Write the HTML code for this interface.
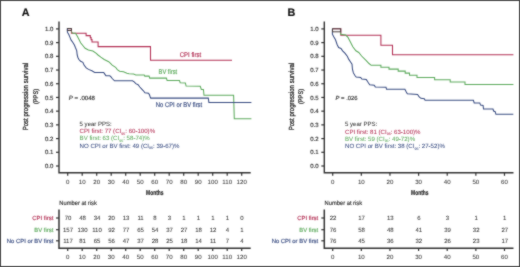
<!DOCTYPE html>
<html><head><meta charset="utf-8"><style>
html,body{margin:0;padding:0;background:#fff;}
body{width:520px;height:267px;overflow:hidden;font-family:"Liberation Sans", sans-serif;}
svg{display:block;will-change:transform;}
</style></head><body>
<svg width="520" height="267" viewBox="0 0 520 267" text-rendering="geometricPrecision" font-family='"Liberation Sans", sans-serif'>
<defs><filter id="bl" x="0" y="0" width="1" height="1" color-interpolation-filters="sRGB"><feConvolveMatrix order="3" kernelMatrix="1 2 1 2 16 2 1 2 1" edgeMode="duplicate"/></filter></defs>
<g filter="url(#bl)">
<rect x="0" y="0" width="520" height="267" fill="#fff"/>
<text x="21.8" y="15.7" font-size="10.8" text-anchor="start" fill="#111" stroke="#111" stroke-width="0.16" font-weight="bold">A</text>
<path d="M59.0,21.4 V172.7 H250.7" fill="none" stroke="#333" stroke-width="1.4"/>
<path d="M56.0,166.00 H59.0" fill="none" stroke="#333" stroke-width="1.2"/>
<text x="53.3" y="168.1" font-size="6" text-anchor="end" fill="#333" stroke="#333" stroke-width="0.15">0.0</text>
<path d="M56.0,152.29 H59.0" fill="none" stroke="#333" stroke-width="1.2"/>
<text x="53.3" y="154.39" font-size="6" text-anchor="end" fill="#333" stroke="#333" stroke-width="0.15">0.1</text>
<path d="M56.0,138.58 H59.0" fill="none" stroke="#333" stroke-width="1.2"/>
<text x="53.3" y="140.67999999999998" font-size="6" text-anchor="end" fill="#333" stroke="#333" stroke-width="0.15">0.2</text>
<path d="M56.0,124.87 H59.0" fill="none" stroke="#333" stroke-width="1.2"/>
<text x="53.3" y="126.97" font-size="6" text-anchor="end" fill="#333" stroke="#333" stroke-width="0.15">0.3</text>
<path d="M56.0,111.16 H59.0" fill="none" stroke="#333" stroke-width="1.2"/>
<text x="53.3" y="113.25999999999999" font-size="6" text-anchor="end" fill="#333" stroke="#333" stroke-width="0.15">0.4</text>
<path d="M56.0,97.45 H59.0" fill="none" stroke="#333" stroke-width="1.2"/>
<text x="53.3" y="99.55" font-size="6" text-anchor="end" fill="#333" stroke="#333" stroke-width="0.15">0.5</text>
<path d="M56.0,83.74 H59.0" fill="none" stroke="#333" stroke-width="1.2"/>
<text x="53.3" y="85.84" font-size="6" text-anchor="end" fill="#333" stroke="#333" stroke-width="0.15">0.6</text>
<path d="M56.0,70.03 H59.0" fill="none" stroke="#333" stroke-width="1.2"/>
<text x="53.3" y="72.13000000000001" font-size="6" text-anchor="end" fill="#333" stroke="#333" stroke-width="0.15">0.7</text>
<path d="M56.0,56.32 H59.0" fill="none" stroke="#333" stroke-width="1.2"/>
<text x="53.3" y="58.419999999999995" font-size="6" text-anchor="end" fill="#333" stroke="#333" stroke-width="0.15">0.8</text>
<path d="M56.0,42.61 H59.0" fill="none" stroke="#333" stroke-width="1.2"/>
<text x="53.3" y="44.71" font-size="6" text-anchor="end" fill="#333" stroke="#333" stroke-width="0.15">0.9</text>
<path d="M56.0,28.90 H59.0" fill="none" stroke="#333" stroke-width="1.2"/>
<text x="53.3" y="31.000000000000007" font-size="6" text-anchor="end" fill="#333" stroke="#333" stroke-width="0.15">1.0</text>
<path d="M67.70,172.7 V175.8" fill="none" stroke="#333" stroke-width="1.2"/>
<text x="67.70" y="184.0" font-size="6.1" text-anchor="middle" fill="#3a3a3a" stroke="#3a3a3a" stroke-width="0.06" >0</text>
<path d="M82.20,172.7 V175.8" fill="none" stroke="#333" stroke-width="1.2"/>
<text x="82.20" y="184.0" font-size="6.1" text-anchor="middle" fill="#3a3a3a" stroke="#3a3a3a" stroke-width="0.06" >10</text>
<path d="M96.70,172.7 V175.8" fill="none" stroke="#333" stroke-width="1.2"/>
<text x="96.70" y="184.0" font-size="6.1" text-anchor="middle" fill="#3a3a3a" stroke="#3a3a3a" stroke-width="0.06" >20</text>
<path d="M111.20,172.7 V175.8" fill="none" stroke="#333" stroke-width="1.2"/>
<text x="111.20" y="184.0" font-size="6.1" text-anchor="middle" fill="#3a3a3a" stroke="#3a3a3a" stroke-width="0.06" >30</text>
<path d="M125.70,172.7 V175.8" fill="none" stroke="#333" stroke-width="1.2"/>
<text x="125.70" y="184.0" font-size="6.1" text-anchor="middle" fill="#3a3a3a" stroke="#3a3a3a" stroke-width="0.06" >40</text>
<path d="M140.20,172.7 V175.8" fill="none" stroke="#333" stroke-width="1.2"/>
<text x="140.20" y="184.0" font-size="6.1" text-anchor="middle" fill="#3a3a3a" stroke="#3a3a3a" stroke-width="0.06" >50</text>
<path d="M154.70,172.7 V175.8" fill="none" stroke="#333" stroke-width="1.2"/>
<text x="154.70" y="184.0" font-size="6.1" text-anchor="middle" fill="#3a3a3a" stroke="#3a3a3a" stroke-width="0.06" >60</text>
<path d="M169.20,172.7 V175.8" fill="none" stroke="#333" stroke-width="1.2"/>
<text x="169.20" y="184.0" font-size="6.1" text-anchor="middle" fill="#3a3a3a" stroke="#3a3a3a" stroke-width="0.06" >70</text>
<path d="M183.70,172.7 V175.8" fill="none" stroke="#333" stroke-width="1.2"/>
<text x="183.70" y="184.0" font-size="6.1" text-anchor="middle" fill="#3a3a3a" stroke="#3a3a3a" stroke-width="0.06" >80</text>
<path d="M198.20,172.7 V175.8" fill="none" stroke="#333" stroke-width="1.2"/>
<text x="198.20" y="184.0" font-size="6.1" text-anchor="middle" fill="#3a3a3a" stroke="#3a3a3a" stroke-width="0.06" >90</text>
<path d="M212.70,172.7 V175.8" fill="none" stroke="#333" stroke-width="1.2"/>
<text x="212.70" y="184.0" font-size="6.1" text-anchor="middle" fill="#3a3a3a" stroke="#3a3a3a" stroke-width="0.06" >100</text>
<path d="M227.20,172.7 V175.8" fill="none" stroke="#333" stroke-width="1.2"/>
<text x="227.20" y="184.0" font-size="6.1" text-anchor="middle" fill="#3a3a3a" stroke="#3a3a3a" stroke-width="0.06" >110</text>
<path d="M241.70,172.7 V175.8" fill="none" stroke="#333" stroke-width="1.2"/>
<text x="241.70" y="184.0" font-size="6.1" text-anchor="middle" fill="#3a3a3a" stroke="#3a3a3a" stroke-width="0.06" >120</text>
<text x="154.8" y="194.8" font-size="7" text-anchor="middle" fill="#222" stroke="#222" stroke-width="0.16" textLength="17.5" lengthAdjust="spacingAndGlyphs" font-weight="bold">Months</text>
<text transform="translate(28.4,96.6) rotate(-90)" font-size="7.4" text-anchor="middle" fill="#222" stroke="#222" stroke-width="0.25" textLength="67.5" lengthAdjust="spacingAndGlyphs">Post progression survival</text>
<text transform="translate(37.8,96.5) rotate(-90)" font-size="6.6" text-anchor="middle" fill="#222" stroke="#222" stroke-width="0.25" textLength="15.2" lengthAdjust="spacingAndGlyphs">(PPS)</text>
<polyline points="67.5,28.8 71.4,28.8 71.4,33.3 86.1,33.3 86.1,35.6 90.3,35.6 90.3,37.6 91.1,37.6 91.1,39.6 92.0,39.6 92.0,42.0 98.1,42.0 98.1,46.6 150.5,46.6 150.5,60.2 232.0,60.2" fill="none" stroke="#b33055" stroke-width="1.05" stroke-linejoin="miter"/>
<polyline points="71.4,31.5 72.7,33.2 75.5,33.2 77.2,36 78.9,39.3 80.6,42.7 82.8,45.5 85.1,48.3 88.4,50 92.9,51.1 96.3,53.4 98,55 100.8,57.2 104.2,59.5 108.7,61.7 110,62.8 112.2,65.1 115.6,67.3 117.3,69.6 119.6,71.2 123.5,71.8 126.9,73.3 129.1,73.7 133.6,74.0 135.8,74.9 144.2,74.9 144.8,76.1 149.1,76.1 149.7,78.1 166.4,78.1 167.1,80.5 179.5,80.5 180.2,82.7 185.4,83.1 186.1,86.1 200.3,86.3 201.3,89.4 203.4,89.4 204.0,95.2 233.6,95.2 234.3,118.8 251.4,118.8" fill="none" stroke="#5eab5e" stroke-width="1.05" stroke-linejoin="miter"/>
<polyline points="67.4,28.5 67.4,32.2 68.8,34.6 69.9,37.1 71,39.9 72.7,42.2 74.4,45 75.5,47.8 76.7,50.6 77.2,55 77.8,57.2 78.9,59.5 80.6,61.2 82.9,62.3 84,65.1 86.2,67.9 88.5,69.4 91.9,70.7 94.7,72.4 103.7,72.4 104.8,74.1 105.9,75.8 109.8,75.8 111,76.9 112.2,78.5 114.5,80.8 132.5,80.8 134.2,81.9 135.8,83.6 138.1,84.7 139.8,87 142,89.4 144,91.5 144.9,92.8 148.5,93.3 149.4,94.6 150.3,97.3 150.7,98.1 208.3,98.1 208.9,102.5 251.4,102.5" fill="none" stroke="#3a4d82" stroke-width="1.05" stroke-linejoin="miter"/>
<rect x="67.4" y="28.5" width="4.0" height="2.0" fill="none" stroke="#4a4040" stroke-width="1"/>
<text x="179.8" y="56.7" font-size="6.8" text-anchor="start" fill="#b33055" stroke="#b33055" stroke-width="0.16" textLength="21.3" lengthAdjust="spacingAndGlyphs" >CPI first</text>
<text x="158.6" y="74.1" font-size="6.8" text-anchor="start" fill="#5eab5e" stroke="#5eab5e" stroke-width="0.16" textLength="18.5" lengthAdjust="spacingAndGlyphs" >BV first</text>
<text x="155.8" y="106.7" font-size="6.8" text-anchor="start" fill="#3a4d82" stroke="#3a4d82" stroke-width="0.16" textLength="46.4" lengthAdjust="spacingAndGlyphs" >No CPI or BV first</text>
<text x="68.7" y="100.2" font-size="6.1" fill="#333" stroke="#333" stroke-width="0.16"><tspan font-style="italic">P</tspan> = .0048</text>
<text x="79.6" y="126.2" font-size="6.1" fill="#333" stroke="#333" stroke-width="0.05" textLength="32.2" lengthAdjust="spacingAndGlyphs">5 year PPS:</text>
<text x="79.6" y="133.3" font-size="6.1" fill="#b33055" stroke="#b33055" stroke-width="0.05">CPI first: 77 (CI<tspan font-size="3.6" dy="1.7">95</tspan><tspan dy="-1.7">: 60-100)%</tspan></text>
<text x="79.6" y="140.4" font-size="6.1" fill="#5eab5e" stroke="#5eab5e" stroke-width="0.05">BV first: 63 (CI<tspan font-size="3.6" dy="1.7">95</tspan><tspan dy="-1.7">: 58-74)%</tspan></text>
<text x="79.6" y="147.6" font-size="6.1" fill="#3a4d82" stroke="#3a4d82" stroke-width="0.05">NO CPI or BV first: 49 (CI<tspan font-size="3.6" dy="1.7">95</tspan><tspan dy="-1.7">: 39-67)%</tspan></text>
<text x="59.3" y="205.4" font-size="6.2" text-anchor="start" fill="#333" stroke="#333" stroke-width="0.16" textLength="37.5" lengthAdjust="spacingAndGlyphs" >Number at risk</text>
<path d="M59.0,209.4 V248.2 H250.7" fill="none" stroke="#333" stroke-width="1.5"/>
<path d="M56.0,218.0 H59.0" fill="none" stroke="#333" stroke-width="1.2"/>
<text x="53.3" y="220.3" font-size="5.9" text-anchor="end" fill="#b33055" stroke="#b33055" stroke-width="0.16" >CPI first</text>
<text x="68.00" y="220.1" font-size="6.0" text-anchor="middle" fill="#333" stroke="#333" stroke-width="0.05" >70</text>
<text x="82.50" y="220.1" font-size="6.0" text-anchor="middle" fill="#333" stroke="#333" stroke-width="0.05" >48</text>
<text x="97.00" y="220.1" font-size="6.0" text-anchor="middle" fill="#333" stroke="#333" stroke-width="0.05" >34</text>
<text x="111.50" y="220.1" font-size="6.0" text-anchor="middle" fill="#333" stroke="#333" stroke-width="0.05" >20</text>
<text x="126.00" y="220.1" font-size="6.0" text-anchor="middle" fill="#333" stroke="#333" stroke-width="0.05" >13</text>
<text x="140.50" y="220.1" font-size="6.0" text-anchor="middle" fill="#333" stroke="#333" stroke-width="0.05" >11</text>
<text x="155.00" y="220.1" font-size="6.0" text-anchor="middle" fill="#333" stroke="#333" stroke-width="0.05" >8</text>
<text x="169.50" y="220.1" font-size="6.0" text-anchor="middle" fill="#333" stroke="#333" stroke-width="0.05" >3</text>
<text x="184.00" y="220.1" font-size="6.0" text-anchor="middle" fill="#333" stroke="#333" stroke-width="0.05" >1</text>
<text x="198.50" y="220.1" font-size="6.0" text-anchor="middle" fill="#333" stroke="#333" stroke-width="0.05" >1</text>
<text x="213.00" y="220.1" font-size="6.0" text-anchor="middle" fill="#333" stroke="#333" stroke-width="0.05" >1</text>
<text x="227.50" y="220.1" font-size="6.0" text-anchor="middle" fill="#333" stroke="#333" stroke-width="0.05" >1</text>
<text x="242.00" y="220.1" font-size="6.0" text-anchor="middle" fill="#333" stroke="#333" stroke-width="0.05" >0</text>
<path d="M56.0,229.7 H59.0" fill="none" stroke="#333" stroke-width="1.2"/>
<text x="53.3" y="232.0" font-size="5.9" text-anchor="end" fill="#5eab5e" stroke="#5eab5e" stroke-width="0.16" >BV first</text>
<text x="68.00" y="231.79999999999998" font-size="6.0" text-anchor="middle" fill="#333" stroke="#333" stroke-width="0.05" >157</text>
<text x="82.50" y="231.79999999999998" font-size="6.0" text-anchor="middle" fill="#333" stroke="#333" stroke-width="0.05" >130</text>
<text x="97.00" y="231.79999999999998" font-size="6.0" text-anchor="middle" fill="#333" stroke="#333" stroke-width="0.05" >110</text>
<text x="111.50" y="231.79999999999998" font-size="6.0" text-anchor="middle" fill="#333" stroke="#333" stroke-width="0.05" >92</text>
<text x="126.00" y="231.79999999999998" font-size="6.0" text-anchor="middle" fill="#333" stroke="#333" stroke-width="0.05" >77</text>
<text x="140.50" y="231.79999999999998" font-size="6.0" text-anchor="middle" fill="#333" stroke="#333" stroke-width="0.05" >65</text>
<text x="155.00" y="231.79999999999998" font-size="6.0" text-anchor="middle" fill="#333" stroke="#333" stroke-width="0.05" >54</text>
<text x="169.50" y="231.79999999999998" font-size="6.0" text-anchor="middle" fill="#333" stroke="#333" stroke-width="0.05" >37</text>
<text x="184.00" y="231.79999999999998" font-size="6.0" text-anchor="middle" fill="#333" stroke="#333" stroke-width="0.05" >27</text>
<text x="198.50" y="231.79999999999998" font-size="6.0" text-anchor="middle" fill="#333" stroke="#333" stroke-width="0.05" >18</text>
<text x="213.00" y="231.79999999999998" font-size="6.0" text-anchor="middle" fill="#333" stroke="#333" stroke-width="0.05" >12</text>
<text x="227.50" y="231.79999999999998" font-size="6.0" text-anchor="middle" fill="#333" stroke="#333" stroke-width="0.05" >4</text>
<text x="242.00" y="231.79999999999998" font-size="6.0" text-anchor="middle" fill="#333" stroke="#333" stroke-width="0.05" >1</text>
<path d="M56.0,240.8 H59.0" fill="none" stroke="#333" stroke-width="1.2"/>
<text x="53.3" y="243.10000000000002" font-size="5.9" text-anchor="end" fill="#3a4d82" stroke="#3a4d82" stroke-width="0.16" >No CPI or BV first</text>
<text x="68.00" y="242.9" font-size="6.0" text-anchor="middle" fill="#333" stroke="#333" stroke-width="0.05" >117</text>
<text x="82.50" y="242.9" font-size="6.0" text-anchor="middle" fill="#333" stroke="#333" stroke-width="0.05" >81</text>
<text x="97.00" y="242.9" font-size="6.0" text-anchor="middle" fill="#333" stroke="#333" stroke-width="0.05" >65</text>
<text x="111.50" y="242.9" font-size="6.0" text-anchor="middle" fill="#333" stroke="#333" stroke-width="0.05" >56</text>
<text x="126.00" y="242.9" font-size="6.0" text-anchor="middle" fill="#333" stroke="#333" stroke-width="0.05" >47</text>
<text x="140.50" y="242.9" font-size="6.0" text-anchor="middle" fill="#333" stroke="#333" stroke-width="0.05" >37</text>
<text x="155.00" y="242.9" font-size="6.0" text-anchor="middle" fill="#333" stroke="#333" stroke-width="0.05" >28</text>
<text x="169.50" y="242.9" font-size="6.0" text-anchor="middle" fill="#333" stroke="#333" stroke-width="0.05" >25</text>
<text x="184.00" y="242.9" font-size="6.0" text-anchor="middle" fill="#333" stroke="#333" stroke-width="0.05" >18</text>
<text x="198.50" y="242.9" font-size="6.0" text-anchor="middle" fill="#333" stroke="#333" stroke-width="0.05" >14</text>
<text x="213.00" y="242.9" font-size="6.0" text-anchor="middle" fill="#333" stroke="#333" stroke-width="0.05" >11</text>
<text x="227.50" y="242.9" font-size="6.0" text-anchor="middle" fill="#333" stroke="#333" stroke-width="0.05" >7</text>
<text x="242.00" y="242.9" font-size="6.0" text-anchor="middle" fill="#333" stroke="#333" stroke-width="0.05" >4</text>
<path d="M67.70,248.2 V251.0" fill="none" stroke="#333" stroke-width="1.2"/>
<text x="67.70" y="259.3" font-size="6.1" text-anchor="middle" fill="#3a3a3a" stroke="#3a3a3a" stroke-width="0.06" >0</text>
<path d="M82.20,248.2 V251.0" fill="none" stroke="#333" stroke-width="1.2"/>
<text x="82.20" y="259.3" font-size="6.1" text-anchor="middle" fill="#3a3a3a" stroke="#3a3a3a" stroke-width="0.06" >10</text>
<path d="M96.70,248.2 V251.0" fill="none" stroke="#333" stroke-width="1.2"/>
<text x="96.70" y="259.3" font-size="6.1" text-anchor="middle" fill="#3a3a3a" stroke="#3a3a3a" stroke-width="0.06" >20</text>
<path d="M111.20,248.2 V251.0" fill="none" stroke="#333" stroke-width="1.2"/>
<text x="111.20" y="259.3" font-size="6.1" text-anchor="middle" fill="#3a3a3a" stroke="#3a3a3a" stroke-width="0.06" >30</text>
<path d="M125.70,248.2 V251.0" fill="none" stroke="#333" stroke-width="1.2"/>
<text x="125.70" y="259.3" font-size="6.1" text-anchor="middle" fill="#3a3a3a" stroke="#3a3a3a" stroke-width="0.06" >40</text>
<path d="M140.20,248.2 V251.0" fill="none" stroke="#333" stroke-width="1.2"/>
<text x="140.20" y="259.3" font-size="6.1" text-anchor="middle" fill="#3a3a3a" stroke="#3a3a3a" stroke-width="0.06" >50</text>
<path d="M154.70,248.2 V251.0" fill="none" stroke="#333" stroke-width="1.2"/>
<text x="154.70" y="259.3" font-size="6.1" text-anchor="middle" fill="#3a3a3a" stroke="#3a3a3a" stroke-width="0.06" >60</text>
<path d="M169.20,248.2 V251.0" fill="none" stroke="#333" stroke-width="1.2"/>
<text x="169.20" y="259.3" font-size="6.1" text-anchor="middle" fill="#3a3a3a" stroke="#3a3a3a" stroke-width="0.06" >70</text>
<path d="M183.70,248.2 V251.0" fill="none" stroke="#333" stroke-width="1.2"/>
<text x="183.70" y="259.3" font-size="6.1" text-anchor="middle" fill="#3a3a3a" stroke="#3a3a3a" stroke-width="0.06" >80</text>
<path d="M198.20,248.2 V251.0" fill="none" stroke="#333" stroke-width="1.2"/>
<text x="198.20" y="259.3" font-size="6.1" text-anchor="middle" fill="#3a3a3a" stroke="#3a3a3a" stroke-width="0.06" >90</text>
<path d="M212.70,248.2 V251.0" fill="none" stroke="#333" stroke-width="1.2"/>
<text x="212.70" y="259.3" font-size="6.1" text-anchor="middle" fill="#3a3a3a" stroke="#3a3a3a" stroke-width="0.06" >100</text>
<path d="M227.20,248.2 V251.0" fill="none" stroke="#333" stroke-width="1.2"/>
<text x="227.20" y="259.3" font-size="6.1" text-anchor="middle" fill="#3a3a3a" stroke="#3a3a3a" stroke-width="0.06" >110</text>
<path d="M241.70,248.2 V251.0" fill="none" stroke="#333" stroke-width="1.2"/>
<text x="241.70" y="259.3" font-size="6.1" text-anchor="middle" fill="#3a3a3a" stroke="#3a3a3a" stroke-width="0.06" >120</text>
<text x="287.4" y="15.7" font-size="10.8" text-anchor="start" fill="#111" stroke="#111" stroke-width="0.16" font-weight="bold">B</text>
<path d="M324.3,21.4 V172.7 H513.48" fill="none" stroke="#333" stroke-width="1.4"/>
<path d="M321.3,166.00 H324.3" fill="none" stroke="#333" stroke-width="1.2"/>
<text x="318.6" y="168.1" font-size="6" text-anchor="end" fill="#333" stroke="#333" stroke-width="0.15">0.0</text>
<path d="M321.3,152.29 H324.3" fill="none" stroke="#333" stroke-width="1.2"/>
<text x="318.6" y="154.39" font-size="6" text-anchor="end" fill="#333" stroke="#333" stroke-width="0.15">0.1</text>
<path d="M321.3,138.58 H324.3" fill="none" stroke="#333" stroke-width="1.2"/>
<text x="318.6" y="140.67999999999998" font-size="6" text-anchor="end" fill="#333" stroke="#333" stroke-width="0.15">0.2</text>
<path d="M321.3,124.87 H324.3" fill="none" stroke="#333" stroke-width="1.2"/>
<text x="318.6" y="126.97" font-size="6" text-anchor="end" fill="#333" stroke="#333" stroke-width="0.15">0.3</text>
<path d="M321.3,111.16 H324.3" fill="none" stroke="#333" stroke-width="1.2"/>
<text x="318.6" y="113.25999999999999" font-size="6" text-anchor="end" fill="#333" stroke="#333" stroke-width="0.15">0.4</text>
<path d="M321.3,97.45 H324.3" fill="none" stroke="#333" stroke-width="1.2"/>
<text x="318.6" y="99.55" font-size="6" text-anchor="end" fill="#333" stroke="#333" stroke-width="0.15">0.5</text>
<path d="M321.3,83.74 H324.3" fill="none" stroke="#333" stroke-width="1.2"/>
<text x="318.6" y="85.84" font-size="6" text-anchor="end" fill="#333" stroke="#333" stroke-width="0.15">0.6</text>
<path d="M321.3,70.03 H324.3" fill="none" stroke="#333" stroke-width="1.2"/>
<text x="318.6" y="72.13000000000001" font-size="6" text-anchor="end" fill="#333" stroke="#333" stroke-width="0.15">0.7</text>
<path d="M321.3,56.32 H324.3" fill="none" stroke="#333" stroke-width="1.2"/>
<text x="318.6" y="58.419999999999995" font-size="6" text-anchor="end" fill="#333" stroke="#333" stroke-width="0.15">0.8</text>
<path d="M321.3,42.61 H324.3" fill="none" stroke="#333" stroke-width="1.2"/>
<text x="318.6" y="44.71" font-size="6" text-anchor="end" fill="#333" stroke="#333" stroke-width="0.15">0.9</text>
<path d="M321.3,28.90 H324.3" fill="none" stroke="#333" stroke-width="1.2"/>
<text x="318.6" y="31.000000000000007" font-size="6" text-anchor="end" fill="#333" stroke="#333" stroke-width="0.15">1.0</text>
<path d="M332.70,172.7 V175.8" fill="none" stroke="#333" stroke-width="1.2"/>
<text x="332.70" y="184.0" font-size="6.1" text-anchor="middle" fill="#3a3a3a" stroke="#3a3a3a" stroke-width="0.06" >0</text>
<path d="M361.33,172.7 V175.8" fill="none" stroke="#333" stroke-width="1.2"/>
<text x="361.33" y="184.0" font-size="6.1" text-anchor="middle" fill="#3a3a3a" stroke="#3a3a3a" stroke-width="0.06" >10</text>
<path d="M389.96,172.7 V175.8" fill="none" stroke="#333" stroke-width="1.2"/>
<text x="389.96" y="184.0" font-size="6.1" text-anchor="middle" fill="#3a3a3a" stroke="#3a3a3a" stroke-width="0.06" >20</text>
<path d="M418.59,172.7 V175.8" fill="none" stroke="#333" stroke-width="1.2"/>
<text x="418.59" y="184.0" font-size="6.1" text-anchor="middle" fill="#3a3a3a" stroke="#3a3a3a" stroke-width="0.06" >30</text>
<path d="M447.22,172.7 V175.8" fill="none" stroke="#333" stroke-width="1.2"/>
<text x="447.22" y="184.0" font-size="6.1" text-anchor="middle" fill="#3a3a3a" stroke="#3a3a3a" stroke-width="0.06" >40</text>
<path d="M475.85,172.7 V175.8" fill="none" stroke="#333" stroke-width="1.2"/>
<text x="475.85" y="184.0" font-size="6.1" text-anchor="middle" fill="#3a3a3a" stroke="#3a3a3a" stroke-width="0.06" >50</text>
<path d="M504.48,172.7 V175.8" fill="none" stroke="#333" stroke-width="1.2"/>
<text x="504.48" y="184.0" font-size="6.1" text-anchor="middle" fill="#3a3a3a" stroke="#3a3a3a" stroke-width="0.06" >60</text>
<text x="419.8" y="194.8" font-size="7" text-anchor="middle" fill="#222" stroke="#222" stroke-width="0.16" textLength="17.5" lengthAdjust="spacingAndGlyphs" font-weight="bold">Months</text>
<text transform="translate(293.7,96.6) rotate(-90)" font-size="7.4" text-anchor="middle" fill="#222" stroke="#222" stroke-width="0.25" textLength="67.5" lengthAdjust="spacingAndGlyphs">Post progression survival</text>
<text transform="translate(303.1,96.5) rotate(-90)" font-size="6.6" text-anchor="middle" fill="#222" stroke="#222" stroke-width="0.25" textLength="15.2" lengthAdjust="spacingAndGlyphs">(PPS)</text>
<polyline points="332.6,28.8 340.8,28.8 340.8,35.3 380.9,35.3 380.9,45.3 392.5,45.3 392.5,54.8 513.4,54.8" fill="none" stroke="#b33055" stroke-width="1.05" stroke-linejoin="miter"/>
<polyline points="340.7,32.2 340.7,34.3 345.7,35.1 348,37.4 350.4,42.1 352.8,46.8 355.9,50.8 358.75,52.5 361.6,56 366.25,60.6 369,63.5 371.2,65.3 380.9,65.3 380.9,67.2 389,67.2 389,69.1 398.2,69.1 398.2,71.1 405.2,71.1 405.2,73.1 409.5,73.1 409.5,75.2 417,75.2 417,77.5 434.6,77.5 434.6,79.8 450.2,79.8 450.2,81.9 465,81.9 465,84.4 513.4,84.4" fill="none" stroke="#5eab5e" stroke-width="1.05" stroke-linejoin="miter"/>
<polyline points="332.4,28.8 332.4,34.2 333.6,36.6 335.5,39.8 337.1,44.5 338.6,47.6 341,48.4 342.6,50.8 344.9,53.1 347.3,56.3 348.8,59.4 350.4,61.8 352,64.1 352.5,69.5 353.4,72.9 355.1,75.7 356.2,77.1 360.7,77.4 361.8,79 366.3,79.4 367.4,81.3 368.5,83 369.7,84.7 374.2,85.2 375.3,86.9 386,87.2 386.5,89.2 404.9,89.2 406.3,91.9 407.3,93.7 417.6,94.4 419.2,97 420.9,98.3 424.3,98.7 425.1,100.3 473.4,100.3 474.2,102.9 479.8,102.9 480.5,105.1 483.1,105.5 483.5,109 493,109 493.6,111 495.2,111.7 495.9,114.3 513.3,114.3" fill="none" stroke="#3a4d82" stroke-width="1.05" stroke-linejoin="miter"/>
<rect x="332.5" y="28.8" width="8.2" height="3.0" fill="none" stroke="#4a4040" stroke-width="1"/>
<text x="335.5" y="99.6" font-size="5.9" fill="#333" stroke="#333" stroke-width="0.16"><tspan font-style="italic">P</tspan> = .026</text>
<text x="345.0" y="126.4" font-size="6.1" fill="#333" stroke="#333" stroke-width="0.05" textLength="32.2" lengthAdjust="spacingAndGlyphs">5 year PPS:</text>
<text x="345.0" y="133.5" font-size="6.1" fill="#b33055" stroke="#b33055" stroke-width="0.05">CPI first: 81 (CI<tspan font-size="3.6" dy="1.7">95</tspan><tspan dy="-1.7">: 63-100)%</tspan></text>
<text x="345.0" y="140.6" font-size="6.1" fill="#5eab5e" stroke="#5eab5e" stroke-width="0.05">BV first: 59 (CI<tspan font-size="3.6" dy="1.7">95</tspan><tspan dy="-1.7">: 49-72)%</tspan></text>
<text x="345.0" y="147.8" font-size="6.1" fill="#3a4d82" stroke="#3a4d82" stroke-width="0.05">NO CPI or BV first: 38 (CI<tspan font-size="3.6" dy="1.7">95</tspan><tspan dy="-1.7">: 27-52)%</tspan></text>
<text x="324.6" y="205.4" font-size="6.2" text-anchor="start" fill="#333" stroke="#333" stroke-width="0.16" textLength="37.5" lengthAdjust="spacingAndGlyphs" >Number at risk</text>
<path d="M324.3,209.4 V248.2 H513.48" fill="none" stroke="#333" stroke-width="1.5"/>
<path d="M321.3,218.0 H324.3" fill="none" stroke="#333" stroke-width="1.2"/>
<text x="318.2" y="220.3" font-size="5.9" text-anchor="end" fill="#b33055" stroke="#b33055" stroke-width="0.16" >CPI first</text>
<text x="333.00" y="220.1" font-size="6.0" text-anchor="middle" fill="#333" stroke="#333" stroke-width="0.05" >22</text>
<text x="361.63" y="220.1" font-size="6.0" text-anchor="middle" fill="#333" stroke="#333" stroke-width="0.05" >17</text>
<text x="390.26" y="220.1" font-size="6.0" text-anchor="middle" fill="#333" stroke="#333" stroke-width="0.05" >13</text>
<text x="418.89" y="220.1" font-size="6.0" text-anchor="middle" fill="#333" stroke="#333" stroke-width="0.05" >6</text>
<text x="447.52" y="220.1" font-size="6.0" text-anchor="middle" fill="#333" stroke="#333" stroke-width="0.05" >3</text>
<text x="476.15" y="220.1" font-size="6.0" text-anchor="middle" fill="#333" stroke="#333" stroke-width="0.05" >1</text>
<text x="504.78" y="220.1" font-size="6.0" text-anchor="middle" fill="#333" stroke="#333" stroke-width="0.05" >1</text>
<path d="M321.3,229.7 H324.3" fill="none" stroke="#333" stroke-width="1.2"/>
<text x="318.2" y="232.0" font-size="5.9" text-anchor="end" fill="#5eab5e" stroke="#5eab5e" stroke-width="0.16" >BV first</text>
<text x="333.00" y="231.79999999999998" font-size="6.0" text-anchor="middle" fill="#333" stroke="#333" stroke-width="0.05" >76</text>
<text x="361.63" y="231.79999999999998" font-size="6.0" text-anchor="middle" fill="#333" stroke="#333" stroke-width="0.05" >58</text>
<text x="390.26" y="231.79999999999998" font-size="6.0" text-anchor="middle" fill="#333" stroke="#333" stroke-width="0.05" >48</text>
<text x="418.89" y="231.79999999999998" font-size="6.0" text-anchor="middle" fill="#333" stroke="#333" stroke-width="0.05" >41</text>
<text x="447.52" y="231.79999999999998" font-size="6.0" text-anchor="middle" fill="#333" stroke="#333" stroke-width="0.05" >39</text>
<text x="476.15" y="231.79999999999998" font-size="6.0" text-anchor="middle" fill="#333" stroke="#333" stroke-width="0.05" >32</text>
<text x="504.78" y="231.79999999999998" font-size="6.0" text-anchor="middle" fill="#333" stroke="#333" stroke-width="0.05" >27</text>
<path d="M321.3,240.8 H324.3" fill="none" stroke="#333" stroke-width="1.2"/>
<text x="318.2" y="243.10000000000002" font-size="5.9" text-anchor="end" fill="#3a4d82" stroke="#3a4d82" stroke-width="0.16" >No CPI or BV first</text>
<text x="333.00" y="242.9" font-size="6.0" text-anchor="middle" fill="#333" stroke="#333" stroke-width="0.05" >76</text>
<text x="361.63" y="242.9" font-size="6.0" text-anchor="middle" fill="#333" stroke="#333" stroke-width="0.05" >45</text>
<text x="390.26" y="242.9" font-size="6.0" text-anchor="middle" fill="#333" stroke="#333" stroke-width="0.05" >36</text>
<text x="418.89" y="242.9" font-size="6.0" text-anchor="middle" fill="#333" stroke="#333" stroke-width="0.05" >32</text>
<text x="447.52" y="242.9" font-size="6.0" text-anchor="middle" fill="#333" stroke="#333" stroke-width="0.05" >26</text>
<text x="476.15" y="242.9" font-size="6.0" text-anchor="middle" fill="#333" stroke="#333" stroke-width="0.05" >23</text>
<text x="504.78" y="242.9" font-size="6.0" text-anchor="middle" fill="#333" stroke="#333" stroke-width="0.05" >17</text>
<path d="M332.70,248.2 V251.0" fill="none" stroke="#333" stroke-width="1.2"/>
<text x="332.70" y="259.3" font-size="6.1" text-anchor="middle" fill="#3a3a3a" stroke="#3a3a3a" stroke-width="0.06" >0</text>
<path d="M361.33,248.2 V251.0" fill="none" stroke="#333" stroke-width="1.2"/>
<text x="361.33" y="259.3" font-size="6.1" text-anchor="middle" fill="#3a3a3a" stroke="#3a3a3a" stroke-width="0.06" >10</text>
<path d="M389.96,248.2 V251.0" fill="none" stroke="#333" stroke-width="1.2"/>
<text x="389.96" y="259.3" font-size="6.1" text-anchor="middle" fill="#3a3a3a" stroke="#3a3a3a" stroke-width="0.06" >20</text>
<path d="M418.59,248.2 V251.0" fill="none" stroke="#333" stroke-width="1.2"/>
<text x="418.59" y="259.3" font-size="6.1" text-anchor="middle" fill="#3a3a3a" stroke="#3a3a3a" stroke-width="0.06" >30</text>
<path d="M447.22,248.2 V251.0" fill="none" stroke="#333" stroke-width="1.2"/>
<text x="447.22" y="259.3" font-size="6.1" text-anchor="middle" fill="#3a3a3a" stroke="#3a3a3a" stroke-width="0.06" >40</text>
<path d="M475.85,248.2 V251.0" fill="none" stroke="#333" stroke-width="1.2"/>
<text x="475.85" y="259.3" font-size="6.1" text-anchor="middle" fill="#3a3a3a" stroke="#3a3a3a" stroke-width="0.06" >50</text>
<path d="M504.48,248.2 V251.0" fill="none" stroke="#333" stroke-width="1.2"/>
<text x="504.48" y="259.3" font-size="6.1" text-anchor="middle" fill="#3a3a3a" stroke="#3a3a3a" stroke-width="0.06" >60</text>
<rect x="0.5" y="0.5" width="519" height="266" fill="none" stroke="#444" stroke-width="1"/>
</g>
</svg>
</body></html>
